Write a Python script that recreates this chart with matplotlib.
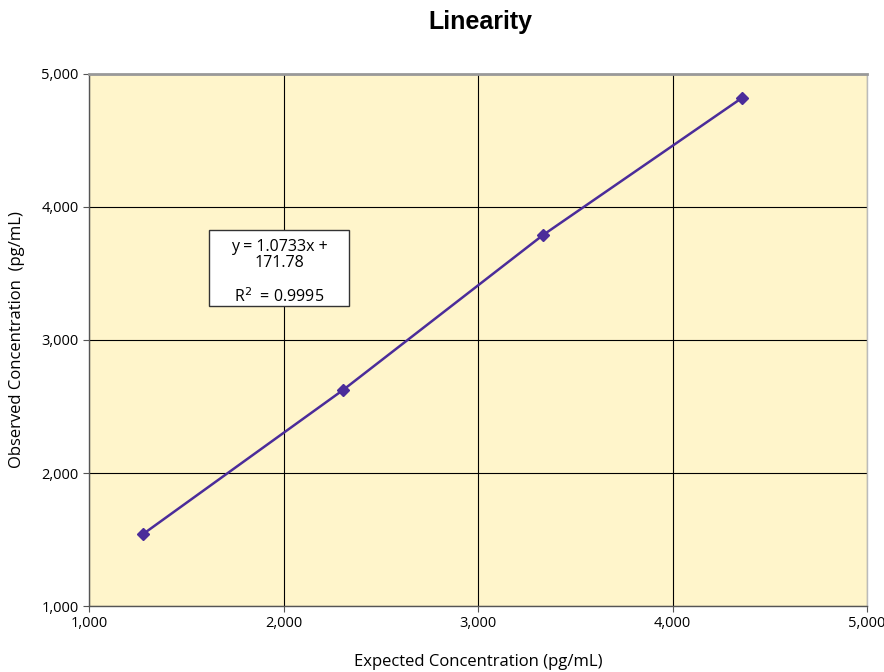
import matplotlib
matplotlib.use("Agg")
import matplotlib.pyplot as plt
from matplotlib.patches import Rectangle
from matplotlib.ticker import FuncFormatter

expected = [1278, 2306, 3334, 4357]
observed = [1541, 2624, 3789, 4820]
ticks = [1000, 2000, 3000, 4000, 5000]
title = "Linearity"
xlabel = "Expected Concentration (pg/mL)"
ylabel = "Observed Concentration  (pg/mL)"
eq_text = "y = 1.0733x +\n171.78\n\nR$^2$  = 0.9995"

plt.rcParams['font.family'] = ['Open Sans', 'DejaVu Sans']

fig = plt.figure(figsize=(8.84, 6.72), dpi=100)
ax = fig.add_axes([0.1007, 0.0982, 0.8801, 0.7917])
ax.set_facecolor('#FFF5CB')

ax.set_xlim(1000, 5000)
ax.set_ylim(1000, 5000)
ax.set_xticks(ticks)
ax.set_yticks(ticks)
fmt = FuncFormatter(lambda v, p: f"{int(v):,}")
ax.xaxis.set_major_formatter(fmt)
ax.yaxis.set_major_formatter(fmt)
ax.grid(True, color='black', linewidth=0.8)
ax.set_axisbelow(True)
ax.tick_params(labelsize=10.5, length=4, direction='out', color='#555555')

for s in ['left', 'bottom']:
    ax.spines[s].set_color('#555555')
    ax.spines[s].set_linewidth(1)
ax.spines['top'].set_color('#999999')
ax.spines['top'].set_linewidth(2)
ax.spines['right'].set_color('#bbbbbb')
ax.spines['right'].set_linewidth(1)

ax.plot(expected, observed, color='#4B2C9A', linewidth=1.8, marker='D',
        markersize=6, markerfacecolor='#4B2C9A', markeredgecolor='#4B2C9A', zorder=3)

# equation box
bx, by, bw, bh = 1977, 3541, 720, 572
ax.add_patch(Rectangle((bx - bw / 2, by - bh / 2), bw, bh, facecolor='white',
                       edgecolor='#333333', linewidth=1, zorder=4))
ax.text(bx, by - 35, eq_text, ha='center', va='center', fontsize=11.5, linespacing=1.0,
        zorder=5)

fig.text(0.543, 0.967, title, ha='center', va='center', fontsize=18, fontweight='bold',
         family='Liberation Sans')
ax.set_xlabel(xlabel, fontsize=12, labelpad=16)
ax.set_ylabel(ylabel, fontsize=12, labelpad=12)

fig.savefig('out.png', dpi=100)
